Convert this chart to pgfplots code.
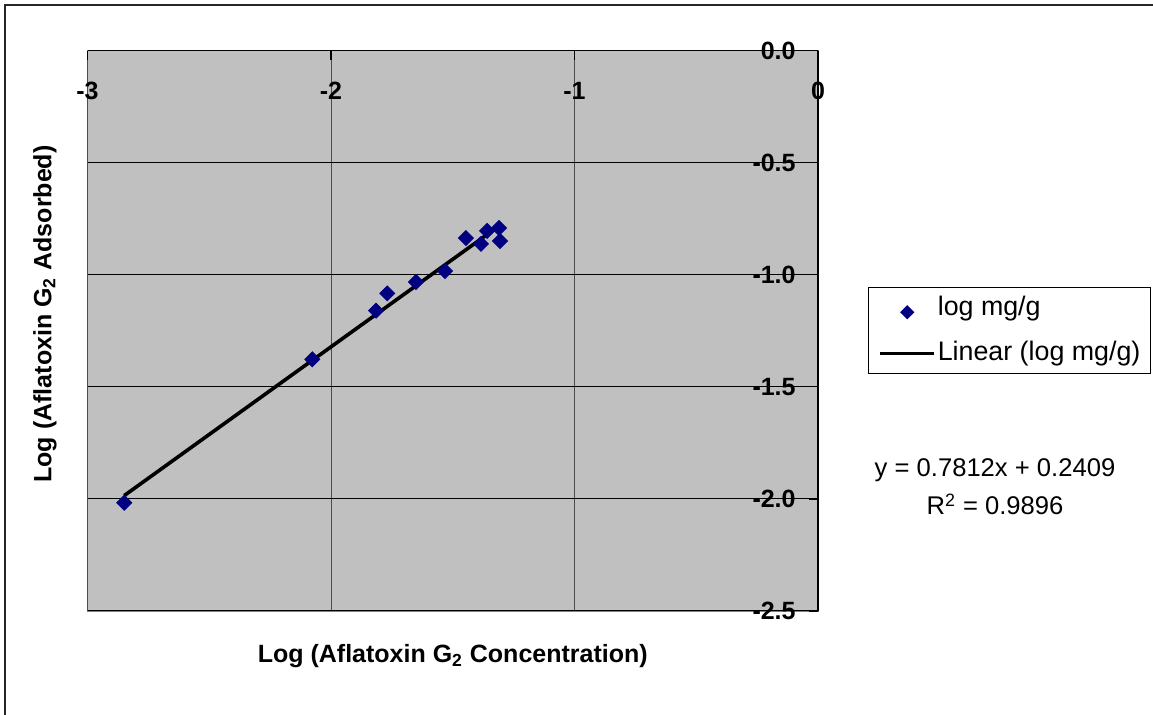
\documentclass[border=0pt]{standalone}
\usepackage{fontspec}
\setmainfont{Liberation Sans}
\usepackage{pgfplots}
\pgfplotsset{compat=1.18}
\definecolor{plotgray}{RGB}{192,192,192}
\definecolor{bordergray}{RGB}{128,128,128}
\definecolor{navymark}{RGB}{0,0,128}
\begin{document}
\begin{tikzpicture}
% page: 1153x715 px, 1 px = 0.5pt
\path[use as bounding box] (0pt,0pt) rectangle (576.5pt,-357.5pt);
\draw[line width=1pt, black!85] (2.5pt,-357.5pt) |- (576.5pt,-2.5pt);

\begin{axis}[
    at={(43.75pt,-305.5pt)}, anchor=south west,
    scale only axis,
    width=365.25pt, height=280.15pt,
    xmin=-3, xmax=0, ymin=-2.5, ymax=0,
    axis x line*=top, axis y line*=right,
    axis line style={black, line width=0.7pt},
    axis background/.style={fill=plotgray, draw=bordergray, line width=0.7pt},
    xtick={-3,-2,-1,0}, xticklabels={-3,-2,-1,0},
    ytick={-2.5,-2,-1.5,-1,-0.5,0},
    yticklabels={-2.5,-2.0,-1.5,-1.0,-0.5,0.0},
    tick align=inside, major tick length=4.5pt,
    tick style={black, line width=0.6pt},
    grid=major,
    x grid style={black!70, line width=0.5pt},
    y grid style={black, line width=0.5pt},
    xticklabel style={anchor=center, yshift=-20pt, font=\fontsize{12.5}{14}\selectfont\bfseries},
    yticklabel style={anchor=east, inner sep=0pt, xshift=-11pt, font=\fontsize{12.5}{14}\selectfont\bfseries},
    xlabel={Log (Aflatoxin G\textsubscript{2} Concentration)},
    ylabel={Log (Aflatoxin G\textsubscript{2} Adsorbed)},
    every axis x label/.style={at={(axis description cs:0.5,-0.0803)}, anchor=center, font=\fontsize{12.5}{14}\selectfont\bfseries},
    every axis y label/.style={at={(axis description cs:-0.0582,0.530)}, rotate=90, anchor=center, font=\fontsize{12.5}{14}\selectfont\bfseries},
    legend style={
        at={(axis description cs:1.0685,0.578)}, anchor=north west,
        draw=black, line width=0.6pt, fill=white,
        font=\fontsize{13.4}{16}\selectfont,
        inner xsep=5pt, inner ysep=3.5pt, row sep=9pt,
        nodes={inner sep=0pt, text height=10.5pt, text depth=3pt},
        /tikz/every odd column/.append style={column sep=1pt},
    },
    legend cell align=left,
]

% measured points
\addplot[only marks, mark=square*, mark size=2.65pt,
    mark options={rotate=45, fill=navymark, draw=navymark},
    legend image code/.code={\draw[mark repeat=2, mark phase=2, mark size=2.2pt]
        plot coordinates {(-2pt,-2pt) (11.5pt,-2pt) (25pt,-2pt)};}]
coordinates {
    (-2.849,-2.017)
    (-2.077,-1.377)
    (-1.815,-1.160)
    (-1.769,-1.083)
    (-1.651,-1.032)
    (-1.532,-0.983)
    (-1.446,-0.836)
    (-1.384,-0.862)
    (-1.359,-0.804)
    (-1.310,-0.791)
    (-1.306,-0.849)
};
\addlegendentry{log mg/g}

% linear trendline y = 0.7812x + 0.2409
\addplot[black, line width=1.8pt,
    legend image code/.code={\draw[line width=1.6pt] (-2pt,0pt) -- (25pt,0pt);}]
coordinates {
    (-2.849,-1.985)
    (-1.306,-0.779)
};
\addlegendentry{Linear (log mg/g)}
\end{axis}

\node[anchor=base, font=\fontsize{12.8}{15}\selectfont] at (497.5pt,-238.5pt) {y = 0.7812x + 0.2409};
\node[anchor=base, font=\fontsize{12.8}{15}\selectfont] at (497.5pt,-257.5pt) {R\textsuperscript{2} = 0.9896};
\end{tikzpicture}
\end{document}
